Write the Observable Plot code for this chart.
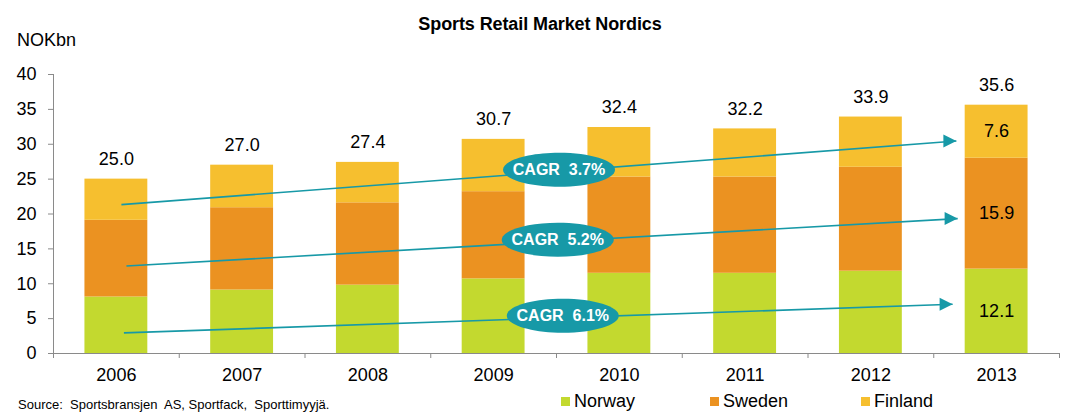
<!DOCTYPE html>
<html>
<head>
<meta charset="utf-8">
<script src="https://cdn.jsdelivr.net/npm/d3@7"></script>
<script src="https://cdn.jsdelivr.net/npm/@observablehq/plot@0.6"></script>
<style>
  body { margin: 0; background: #fff; font-family: "Liberation Sans", Arial, sans-serif; }
  #wrap { position: relative; width: 1066px; height: 419px; overflow: hidden; background: #fff; }
  #title { position: absolute; top: 15px; left: 0; width: 1080px; text-align: center; font-weight: bold; font-size: 18px; line-height: 18px; color: #000; letter-spacing: -0.1px; }
  #unit { position: absolute; top: 31px; left: 17px; font-size: 18px; line-height: 18px; color: #000; }
  #chart { position: absolute; top: 62px; left: 0; }
  .leg { position: absolute; top: 392px; font-size: 18px; line-height: 18px; color: #000; white-space: nowrap; }
  .sw { display: inline-block; width: 9px; height: 9px; margin-right: 4px; vertical-align: 1px; }
  #source { position: absolute; top: 398px; left: 18px; font-size: 13px; line-height: 13px; color: #000; white-space: pre; }
  svg text { white-space: pre; }
</style>
</head>
<body>
<div id="wrap">
  <div id="title">Sports Retail Market Nordics</div>
  <div id="unit">NOKbn</div>
  <div id="chart"></div>
  <div id="legend"></div>
  <div id="source">Source:  Sportsbransjen  AS, Sportfack,  Sporttimyyjä.</div>
</div>
<script>
// ---- data ----
const years = [2006, 2007, 2008, 2009, 2010, 2011, 2012, 2013];
const countries = ["Norway", "Sweden", "Finland"];
const norway  = [8.1, 9.1, 9.8, 10.7, 11.5, 11.5, 11.8, 12.1];
const sweden  = [11.0, 11.8, 11.8, 12.5, 13.8, 13.8, 14.9, 15.9];
const finland = [5.9, 6.1, 5.8, 7.5, 7.1, 6.9, 7.2, 7.6];
const totals  = [25.0, 27.0, 27.4, 30.7, 32.4, 32.2, 33.9, 35.6];
const yTicks = [0, 5, 10, 15, 20, 25, 30, 35, 40];
// CAGR annotations (Finland, Sweden, Norway)
const cagrLabels = ["CAGR  3.7%", "CAGR  5.2%", "CAGR  6.1%"];
const cagrStartX = [2006.04, 2006.08, 2006.06];
const cagrStartY = [21.35, 12.55, 2.95];
const cagrEndX   = [2012.68, 2012.69, 2012.65];
const cagrEndY   = [30.46, 19.34, 7.06];
const cagrLabelX = [2009.52, 2009.51, 2009.55];
const cagrLabelY = [26.33, 16.30, 5.42];

// ---- style ----
const colors = ["#c3d92f", "#eb9221", "#f6bf2f"];
const teal = "#1799a7";
const gray = "#8a8a8a";

const series = [norway, sweden, finland];
const rows = years.flatMap((year, i) => countries.map((country, k) => ({year, country, value: series[k][i]})));
const lastRows = rows.filter(d => d.year === years[years.length - 1]);
const xDomain = [years[0] - 0.5, years[years.length - 1] + 0.5];
const boundaries = d3.range(xDomain[0], xDomain[1] + 0.01, 1);
const idx = cagrLabels.map((_, i) => i);

const ellipse = {
  draw(ctx) {
    const rx = 56, ry = 17, k = 0.5523;
    ctx.moveTo(rx, 0);
    ctx.bezierCurveTo(rx, ry * k, rx * k, ry, 0, ry);
    ctx.bezierCurveTo(-rx * k, ry, -rx, ry * k, -rx, 0);
    ctx.bezierCurveTo(-rx, -ry * k, -rx * k, -ry, 0, -ry);
    ctx.bezierCurveTo(rx * k, -ry, rx, -ry * k, rx, 0);
    ctx.closePath();
  }
};
const head = {
  draw(ctx) {
    ctx.moveTo(0, 0);
    ctx.lineTo(-13, -6.5);
    ctx.lineTo(-13, 6.5);
    ctx.closePath();
  }
};

const chart = Plot.plot({
  width: 1066,
  height: 327,
  marginTop: 12,
  marginBottom: 36,
  marginLeft: 53,
  marginRight: 7,
  style: {fontFamily: "'Liberation Sans', Arial, sans-serif", fontSize: "18px", color: "#000", background: "#fff", overflow: "visible"},
  x: {domain: xDomain, label: null},
  y: {domain: [0, 40], label: null},
  color: {domain: countries, range: colors},
  marks: [
    Plot.rectY(rows, Plot.stackY({x: "year", x1: d => d.year - 0.25, x2: d => d.year + 0.25, y: "value", fill: "country"})),
    Plot.ruleY([0], {stroke: gray}),
    Plot.ruleX([xDomain[0]], {y1: 0, y2: 40, stroke: gray}),
    Plot.axisY({ticks: yTicks, tickSize: 5, tickPadding: 12, stroke: gray, fill: "#000", label: null}),
    Plot.axisX({ticks: boundaries, tickSize: 5, tickFormat: () => "", stroke: gray, label: null}),
    Plot.axisX({ticks: years, tickSize: 0, tickPadding: 15, tickFormat: d => String(d), fill: "#000", label: null}),
    Plot.text(years, {x: d => d, y: (d, i) => totals[i], dy: -20, text: (d, i) => totals[i].toFixed(1), fontSize: 18, fill: "#000"}),
    Plot.text(lastRows, Plot.stackY({x: "year", y: "value", text: d => d.value.toFixed(1), fontSize: 18, fill: "#000"})),
    Plot.link(idx, {x1: i => cagrStartX[i], y1: i => cagrStartY[i], x2: i => cagrEndX[i], y2: i => cagrEndY[i], stroke: teal, strokeWidth: 1.6}),
    Plot.dot(idx, {x: i => cagrEndX[i], y: i => cagrEndY[i], symbol: head, fill: teal}),
    Plot.dot(idx, {x: i => cagrLabelX[i], y: i => cagrLabelY[i], symbol: ellipse, fill: teal}),
    Plot.text(idx, {x: i => cagrLabelX[i], y: i => cagrLabelY[i], text: i => cagrLabels[i], fill: "#fff", fontWeight: "bold", fontSize: 16})
  ]
});
document.getElementById("chart").appendChild(chart);

const legendLeft = [561, 710, 861];
const legend = document.getElementById("legend");
countries.forEach((c, k) => {
  const item = document.createElement("div");
  item.className = "leg";
  item.style.left = legendLeft[k] + "px";
  const sw = document.createElement("span");
  sw.className = "sw";
  sw.style.background = colors[k];
  item.appendChild(sw);
  item.appendChild(document.createTextNode(c));
  legend.appendChild(item);
});
</script>
</body>
</html>
